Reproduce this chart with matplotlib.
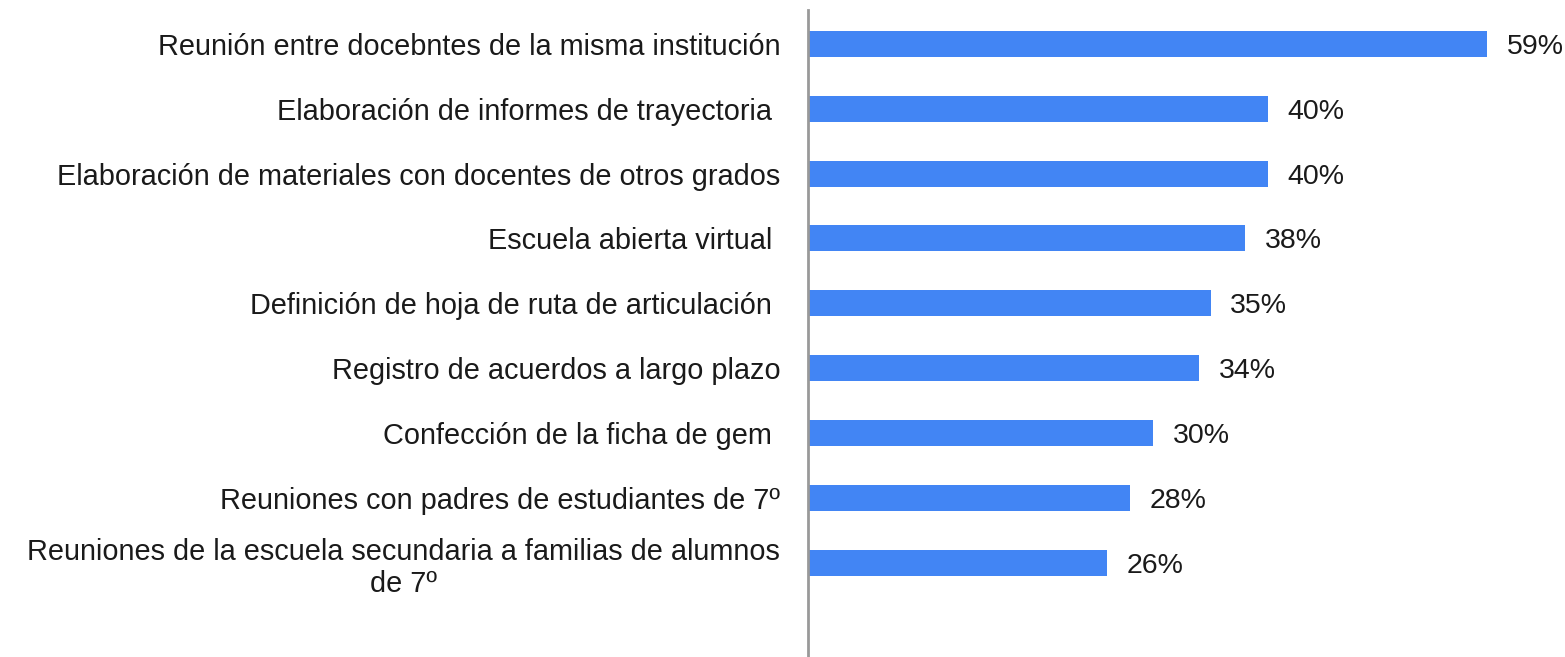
import matplotlib.pyplot as plt

plt.rcParams['font.family'] = ['Liberation Sans', 'DejaVu Sans']

etiquetas = [
    "Reunión entre docebntes de la misma institución",
    "Elaboración de informes de trayectoria ",
    "Elaboración de materiales con docentes de otros grados",
    "Escuela abierta virtual ",
    "Definición de hoja de ruta de articulación ",
    "Registro de acuerdos a largo plazo",
    "Confección de la ficha de gem ",
    "Reuniones con padres de estudiantes de 7º",
    "Reuniones de la escuela secundaria a familias de alumnos\nde 7º",
]
valores = [59, 40, 40, 38, 35, 34, 30, 28, 26]

fig = plt.figure(figsize=(15.65, 6.57), dpi=100)
ax = fig.add_axes([808 / 1565, 0, (1556 - 808) / 1565, 1 - 10 / 657])

pos = list(range(len(valores)))
ax.barh(pos, valores, height=0.4, color='#4285F4')

for p, v in zip(pos, valores):
    ax.text(v + 1.7, p, f"{v}%", va='center_baseline', ha='left', fontsize=20.5, color='#1a1a1a')

ax.set_xlim(0, 65)
ax.set_ylim(len(valores) - 1 + 1.45, -0.52)

ax.set_yticks(pos)
ax.set_yticklabels(etiquetas, fontsize=20.8, color='#1a1a1a', multialignment='center')
ax.tick_params(axis='y', length=0, pad=20)
ax.set_xticks([])

for s in ['top', 'right', 'bottom']:
    ax.spines[s].set_visible(False)
ax.spines['left'].set_color('#999999')
ax.spines['left'].set_linewidth(2)

fig.savefig('out.png', dpi=100)
